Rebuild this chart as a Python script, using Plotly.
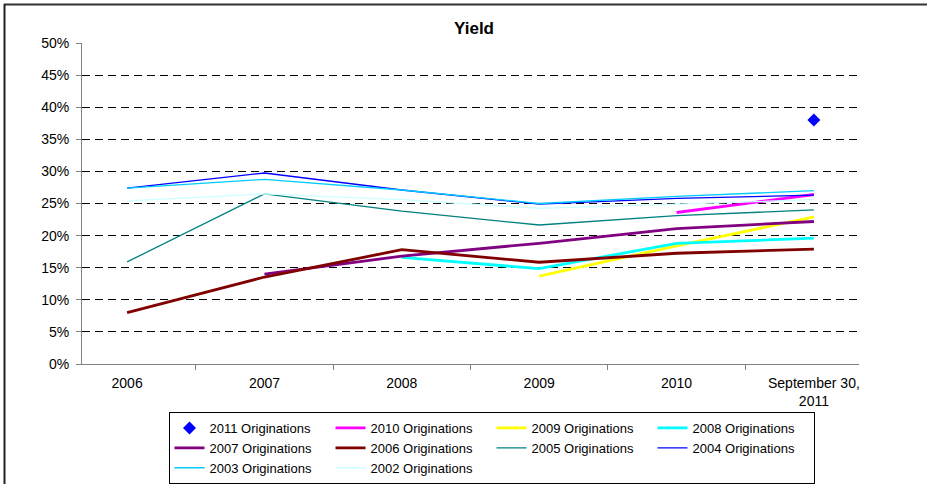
import plotly.graph_objects as go

categories = ["2006", "2007", "2008", "2009", "2010", "September 30,<br>2011"]

y2011 = [None, None, None, None, None, 0.380]
y2010 = [None, None, None, None, 0.236, 0.264]
y2009 = [None, None, None, 0.137, 0.184, 0.229]
y2008 = [None, None, 0.166, 0.1485, 0.188, 0.196]
y2007 = [None, 0.140, 0.168, 0.188, 0.211, 0.222]
y2006 = [0.080, 0.1355, 0.178, 0.1585, 0.1725, 0.179]
y2005 = [0.159, 0.265, 0.238, 0.2165, 0.231, 0.240]
y2004 = [0.274, 0.2975, 0.271, 0.249, 0.258, 0.263]
y2003 = [0.274, 0.2875, 0.271, 0.250, 0.261, 0.270]
y2002 = [0.254, 0.265, 0.256, 0.2425, 0.249, 0.256]

series = [
    ("2010 Originations", y2010, "#FF00FF", 2.8),
    ("2009 Originations", y2009, "#FFFF00", 2.8),
    ("2008 Originations", y2008, "#00FFFF", 2.8),
    ("2007 Originations", y2007, "#800080", 2.8),
    ("2006 Originations", y2006, "#800000", 2.8),
    ("2005 Originations", y2005, "#008080", 1.3),
    ("2004 Originations", y2004, "#0000FF", 1.3),
    ("2003 Originations", y2003, "#00CCFF", 1.3),
    ("2002 Originations", y2002, "#CCFFFF", 1.3),
]

fig = go.Figure()
fig.add_trace(go.Scatter(
    x=categories, y=y2011, mode="markers", name="2011 Originations",
    marker=dict(symbol="diamond", size=10, color="#0000FF"),
))
for name, vals, color, w in series:
    fig.add_trace(go.Scatter(
        x=categories, y=vals, mode="lines", name=name,
        line=dict(color=color, width=w),
    ))

W, H = 927, 484
L, R, T, B = 82, 68, 43, 120
pw, ph = W - L - R, H - T - B

def px2paper_x(px):
    return (px - L) / pw

def px2paper_y(py):
    return (H - B - py) / ph

fig.update_layout(
    width=W, height=H,
    margin=dict(l=L, r=R, t=T, b=B, autoexpand=False),
    paper_bgcolor="white", plot_bgcolor="white",
    font=dict(family="Liberation Sans, Arial, sans-serif", size=14, color="black"),
    title=dict(text="<b>Yield</b>", x=474 / W, xanchor="center",
               y=1 - 28 / H, yanchor="middle", yref="container",
               font=dict(size=17, color="black")),
    showlegend=True,
    legend=dict(
        orientation="h", x=px2paper_x(168.5), xanchor="left",
        y=px2paper_y(412), yanchor="top",
        bordercolor="black", borderwidth=1, bgcolor="white",
        entrywidth=116, entrywidthmode="pixels",
        font=dict(size=13), traceorder="normal",
        tracegroupgap=0, itemwidth=30,
    ),
    xaxis=dict(
        type="category", showgrid=False, showline=True, linecolor="#808080",
        linewidth=1, ticks="outside", tickson="boundaries", ticklen=5,
        tickcolor="#808080", tickfont=dict(size=14), zeroline=False,
        ticklabelstandoff=6,
    ),
    yaxis=dict(
        range=[0, 0.5], dtick=0.05, tickformat=".0%", showgrid=True,
        gridcolor="black", griddash="8px,5px", gridwidth=1,
        showline=True, linecolor="#808080", linewidth=1,
        ticks="outside", ticklen=5, tickcolor="#808080",
        zeroline=False, tickfont=dict(size=14), ticklabelstandoff=4,
    ),
)

# outer chart frame (top and left edges)
fig.add_shape(type="line", xref="paper", yref="paper",
              x0=px2paper_x(4), x1=px2paper_x(927), y0=px2paper_y(4.5), y1=px2paper_y(4.5),
              line=dict(color="#333333", width=2))
fig.add_shape(type="line", xref="paper", yref="paper",
              x0=px2paper_x(4.5), x1=px2paper_x(4.5), y0=px2paper_y(4), y1=px2paper_y(484),
              line=dict(color="#222222", width=2))

fig.write_html("out.html", config={"displayModeBar": False},
               post_script="document.body.style.margin='0';")
